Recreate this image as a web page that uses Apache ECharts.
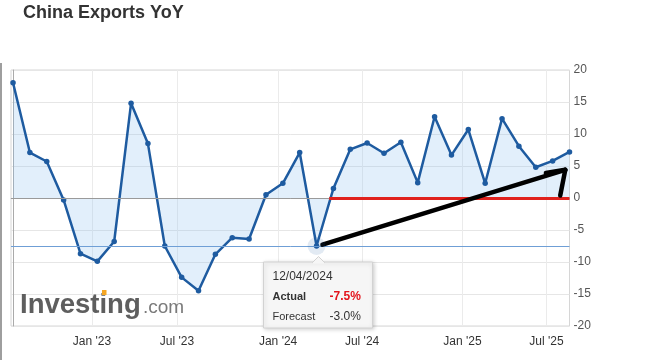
<!DOCTYPE html>
<html><head><meta charset="utf-8">
<script src="https://cdn.jsdelivr.net/npm/echarts@6/dist/echarts.min.js"></script>
<style>html,body{margin:0;padding:0;background:#fff}#c{width:646px;height:360px}</style>
</head><body><div id="c"></div>
<script>
// Monthly China exports YoY (%), one point per release (Jan+Feb combined)
const periods = ["Jul 22","Aug 22","Sep 22","Oct 22","Nov 22","Dec 22","Jan-Feb 23","Mar 23","Apr 23","May 23","Jun 23","Jul 23","Aug 23","Sep 23","Oct 23","Nov 23","Dec 23","Jan-Feb 24","Mar 24","Apr 24","May 24","Jun 24","Jul 24","Aug 24","Sep 24","Oct 24","Nov 24","Dec 24","Jan-Feb 25","Mar 25","Apr 25","May 25","Jun 25","Jul 25"];
const values = [18.0, 7.1, 5.7, -0.3, -8.7, -9.9, -6.8, 14.8, 8.5, -7.5, -12.4, -14.5, -8.8, -6.2, -6.4, 0.5, 2.3, 7.1, -7.5, 1.5, 7.6, 8.6, 7.0, 8.7, 2.4, 12.7, 6.7, 10.7, 2.3, 12.4, 8.1, 4.8, 5.8, 7.2];
// x-axis tick labels and their positions on the (ordinal) release axis
const xTickLabels = ["Jan '23", "Jul '23", "Jan '24", "Jul '24", "Jan '25", "Jul '25"];
const xTickPos = [4.68, 9.72, 15.72, 20.7, 26.65, 31.63];
const yTicks = [-20, -15, -10, -5, 0, 5, 10, 15, 20];
// highlighted point (tooltip)
const hoverIndex = 18;
const tooltipDate = "12/04/2024";
const tooltipActual = "-7.5%";
const tooltipForecast = "-3.0%";

const FONT = "'Liberation Sans', Arial, sans-serif";
const chart = echarts.init(document.getElementById('c'), null, {renderer: 'canvas'});

const lineColor = '#1e5ba0';
const option = {
  animation: false,
  backgroundColor: '#fff',
  title: {
    text: 'China Exports YoY', left: 18, top: -1,
    textStyle: {fontSize: 18, fontWeight: 'bold', color: '#333', fontFamily: FONT}
  },
  grid: {left: 11, right: 76.5, top: 70, bottom: 34, show: true, borderColor: '#d6d6d6', borderWidth: 1},
  xAxis: {
    type: 'value', min: -0.12, max: values.length - 1,
    axisLine: {show: true, lineStyle: {color: '#c6cede', width: 1}},
    axisTick: {show: false, customValues: xTickPos},
    axisLabel: {
      customValues: xTickPos, margin: 10, color: '#333', fontSize: 12, fontFamily: FONT,
      formatter: function (v) { const i = xTickPos.findIndex(p => Math.abs(p - v) < 1e-6); return i >= 0 ? xTickLabels[i] : ''; }
    },
    splitLine: {show: true, lineStyle: {color: '#ebebeb', width: 1}}
  },
  yAxis: {
    type: 'value', position: 'right', min: yTicks[0], max: yTicks[yTicks.length - 1], interval: 5,
    axisLine: {show: true, lineStyle: {color: '#aaaaaa', width: 1}},
    axisTick: {show: false},
    axisLabel: {margin: 4, color: '#555', fontSize: 12, fontFamily: FONT, align: 'left'},
    splitLine: {show: true, lineStyle: {color: '#e6e6e6', width: 1}}
  },
  series: [{
    type: 'line',
    data: values.map((v, i) => [i, v]),
    symbol: 'circle', symbolSize: 5.5,
    itemStyle: {color: lineColor},
    lineStyle: {color: lineColor, width: 2.5},
    areaStyle: {color: 'rgba(140,190,240,0.36)', origin: 0},
    z: 3,
    markPoint: {
      silent: true, symbol: 'circle', symbolSize: 18,
      itemStyle: {color: 'rgba(30,91,160,0.13)'}, label: {show: false},
      data: [{coord: [hoverIndex, values[hoverIndex]]}]
    },
    markLine: {
      silent: true, symbol: 'none', label: {show: false}, animation: false,
      data: [
        {yAxis: 0, lineStyle: {color: '#9a9a9a', width: 1, type: 'solid'}},
        {yAxis: values[hoverIndex], lineStyle: {color: '#6f9fd6', width: 1, type: 'solid'}},
        [{coord: [18.75, 0], lineStyle: {color: '#e0211d', width: 3, type: 'solid'}}, {coord: [33, 0]}],
        [{coord: [18.35, -7.3], lineStyle: {color: '#000', width: 4.5, type: 'solid', cap: 'round'}}, {coord: [32.75, 4.4]}],
        [{coord: [32.75, 4.4], lineStyle: {color: '#000', width: 4.5, type: 'solid', cap: 'round'}}, {coord: [31.6, 3.9]}],
        [{coord: [32.75, 4.4], lineStyle: {color: '#000', width: 4.5, type: 'solid', cap: 'round'}}, {coord: [32.45, 0.4]}]
      ]
    }
  }],
  graphic: [
    {type: 'rect', left: 0, top: 63, z: 100, shape: {width: 2, height: 297}, style: {fill: '#9e9e9e'}, silent: true},
    {type: 'group', left: 263, top: 256, z: 100, silent: true, children: [
      {type: 'rect', z: 100, shape: {x: 0, y: 6, width: 109, height: 66}, style: {fill: '#f6f6f6', stroke: '#d2d2d2', lineWidth: 1, shadowBlur: 4, shadowOffsetX: 1, shadowOffsetY: 1, shadowColor: 'rgba(0,0,0,0.18)'}},
      {type: 'polygon', z: 101, shape: {points: [[49, 6.5], [55, 0.5], [61, 6.5]]}, style: {fill: '#f6f6f6', stroke: '#d2d2d2', lineWidth: 1}},
      {type: 'rect', z: 102, shape: {x: 49.5, y: 6, width: 11, height: 1.5}, style: {fill: '#f6f6f6'}},
      {type: 'text', z: 103, x: 9, y: 21, style: {text: tooltipDate, fill: '#333', font: '12px ' + FONT, verticalAlign: 'middle'}},
      {type: 'text', z: 103, x: 9, y: 41, style: {text: 'Actual', fill: '#333', font: 'bold 11px ' + FONT, verticalAlign: 'middle'}},
      {type: 'text', z: 103, x: 66, y: 41, style: {text: tooltipActual, fill: '#e3141c', font: 'bold 12px ' + FONT, verticalAlign: 'middle'}},
      {type: 'text', z: 103, x: 9, y: 61, style: {text: 'Forecast', fill: '#333', font: '11px ' + FONT, verticalAlign: 'middle'}},
      {type: 'text', z: 103, x: 66, y: 61, style: {text: tooltipForecast, fill: '#333', font: '12px ' + FONT, verticalAlign: 'middle'}}
    ]},
    {type: 'group', left: 20, top: 290, z: 100, silent: true, children: [
      {type: 'text', z: 100, x: 0, y: 0, style: {text: 'Investing', fill: '#5e5e5e', font: 'bold 27.5px ' + FONT, verticalAlign: 'top'}},
      {type: 'text', z: 100, x: 123, y: 7, style: {text: '.com', fill: '#7a7a7a', font: '19px ' + FONT, verticalAlign: 'top'}},
      {type: 'rect', z: 101, shape: {x: 82, y: -1, width: 4.5, height: 5}, style: {fill: '#f5a623'}}
    ]}
  ]
};
chart.setOption(option);
</script>
</body></html>
